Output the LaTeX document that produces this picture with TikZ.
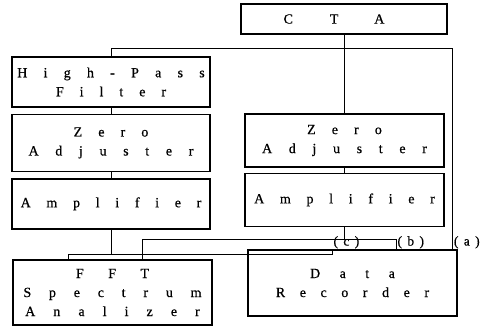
\documentclass[tikz,border=0pt]{standalone}
\usepackage{fontspec}
\setmainfont{Liberation Serif}
\usetikzlibrary{positioning,calc}
\newcommand{\spaced}[2]{{\addfontfeatures{LetterSpace=#1,FakeBold=0.6}#2}}

\begin{document}
\begin{tikzpicture}[x=1pt,y=-1pt,
block/.style={draw,line width=1.4pt,align=center,minimum width=198pt,minimum height=50pt,inner sep=0pt,font=\fontsize{14}{19}\selectfont},
wire/.style={line width=0.9pt},
tag/.style={anchor=west,inner sep=1pt,font=\fontsize{13.5}{13.5}\selectfont}]
\useasboundingbox (0,0) rectangle (489,326);
\node[block,minimum width=206pt,minimum height=30pt](cta) at (344,19){\spaced{264}{CTA}\hspace*{20pt}};
\node[block](hpf) at (111,82){\spaced{116}{High-Pass}\\\spaced{114}{Filter}};
\node[block,below=6pt of hpf,minimum height=57pt](zeroL){\spaced{115}{Zero}\\\spaced{119}{Adjuster}};
\node[block,below=6pt of zeroL](ampL){\spaced{112}{Amplifier}};
\node[block,minimum width=199pt,minimum height=53pt](zeroR) at (344.5,140.5){\spaced{115}{Zero}\\\spaced{119}{Adjuster}};
\node[block,minimum width=199pt,minimum height=53pt,below=5pt of zeroR](ampR){\spaced{112}{Amplifier}};
\node[block,minimum width=199pt,minimum height=65pt](fft) at (112.5,292.5){\spaced{175}{FFT}\\\spaced{127}{Spectrum}\\\spaced{129}{Analizer}};
\node[block,minimum width=209pt,minimum height=66pt](rec) at (352.5,283){\spaced{139}{Data}\\\spaced{104}{Recorder}};
% CTA outputs
\coordinate (split) at ($(cta.south)+(0,14)$);
\coordinate (inA) at ($(rec.north east)+(-5,0)$);
\draw[wire](cta.south)--(cta.south |- zeroR.north);
\draw[wire](hpf.north)|-(split)-|(inA);
\draw[wire](hpf)--(zeroL);
\draw[wire](zeroL)--(ampL);
\draw[wire](zeroR)--(ampR);
% recorder and analyzer inputs
\coordinate (busC) at ($(ampL.south)+(0,25)$);
\coordinate (busB) at ($(ampR.south)+(0,12)$);
\coordinate (inC) at ($(rec.north west)+(85,0)$);
\coordinate (inB) at ($(rec.north west)+(149,0)$);
\coordinate (fftC) at ($(fft.north west)+(56,0)$);
\coordinate (fftB) at ($(fft.north west)+(130,0)$);
\draw[wire](ampL.south)--(busC);
\draw[wire](fftC)|-(busC)-|(inC);
\draw[wire](ampR.south)--(busB);
\draw[wire](fftB)|-(busB)-|(inB);
\node[tag](lblC) at ($(inC)+(0,-7)$){\spaced{40}{(c)}};
\node[tag](lblB) at ($(inB)+(0,-7)$){\spaced{40}{(b)}};
\node[tag](lblA) at ($(inA)+(0,-7)$){\spaced{40}{(a)}};
\end{tikzpicture}
\end{document}
